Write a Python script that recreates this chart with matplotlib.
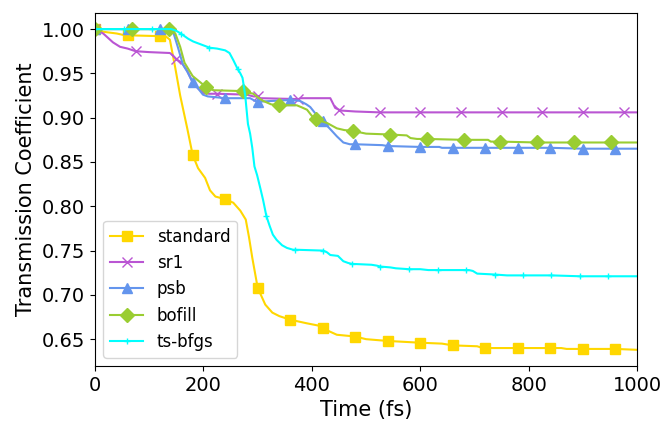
import matplotlib
matplotlib.use('Agg')
import matplotlib.pyplot as plt
import numpy as np

# time (fs) and transmission coefficient
t_std = [0, 15, 40, 55, 60, 120, 130, 138, 148, 157, 170, 180, 190, 203, 212, 222, 240,
         255, 268, 278, 284, 290, 300, 314, 327, 340, 360, 390, 415, 420, 428, 446, 480,
         500, 540, 600, 640, 660, 705, 715, 720, 780, 840, 860, 870, 900, 960, 1000]
v_std = [1.000, 0.997, 0.995, 0.993, 0.993, 0.992, 0.992, 0.988, 0.956, 0.925, 0.888, 0.858, 0.843, 0.832, 0.818, 0.811, 0.808,
         0.804, 0.795, 0.785, 0.765, 0.742, 0.708, 0.689, 0.680, 0.676, 0.672, 0.668, 0.665, 0.663, 0.660, 0.655, 0.653,
         0.650, 0.648, 0.646, 0.645, 0.643, 0.642, 0.640, 0.640, 0.640, 0.640, 0.640, 0.639, 0.639, 0.639, 0.638]
m_std = [0, 60, 120, 180, 240, 300, 360, 420, 480, 540, 600, 660, 720, 780, 840, 900, 960]

t_sr1 = [0, 15, 33, 46, 60, 75, 100, 138, 144, 150, 160, 170, 180, 190, 200, 210, 225, 280,
         292, 300, 305, 375, 380, 434, 443, 450, 455, 480, 525, 600, 675, 750, 825, 900, 975, 1000]
v_sr1 = [1.000, 0.995, 0.985, 0.980, 0.978, 0.975, 0.974, 0.973, 0.970, 0.966, 0.962, 0.953, 0.940, 0.933, 0.928, 0.927, 0.927, 0.926,
         0.924, 0.924, 0.922, 0.921, 0.922, 0.922, 0.911, 0.909, 0.908, 0.907, 0.906, 0.906, 0.906, 0.906, 0.906, 0.906, 0.906, 0.906]
m_sr1 = [0, 75, 150, 225, 300, 375, 450, 525, 600, 675, 750, 825, 900, 975]

t_psb = [0, 60, 120, 140, 145, 153, 162, 170, 180, 190, 199, 208, 240, 286, 295, 300, 330,
         360, 378, 390, 397, 410, 420, 434, 446, 458, 470, 480, 530, 540, 600, 635, 640,
         660, 720, 780, 840, 900, 960, 1000]
v_psb = [1.000, 1.000, 1.000, 1.000, 0.995, 0.979, 0.960, 0.952, 0.940, 0.933, 0.926, 0.924, 0.922, 0.922, 0.919, 0.918, 0.919,
         0.920, 0.919, 0.915, 0.912, 0.902, 0.896, 0.887, 0.879, 0.872, 0.870, 0.870, 0.869, 0.868, 0.867, 0.867, 0.866,
         0.866, 0.866, 0.866, 0.866, 0.865, 0.865, 0.865]
m_psb = [0, 60, 120, 180, 240, 300, 360, 420, 480, 540, 600, 660, 720, 780, 840, 900, 960]

t_bof = [0, 68, 136, 140, 148, 157, 165, 172, 180, 190, 204, 218, 272, 292, 300, 310, 325,
         340, 372, 380, 391, 400, 408, 428, 446, 460, 476, 500, 544, 575, 582, 594, 612,
         680, 725, 730, 748, 816, 884, 952, 1000]
v_bof = [1.000, 1.000, 1.000, 1.000, 0.995, 0.980, 0.962, 0.955, 0.947, 0.942, 0.935, 0.931, 0.930, 0.927, 0.923, 0.919, 0.915,
         0.914, 0.914, 0.912, 0.909, 0.902, 0.898, 0.894, 0.888, 0.886, 0.885, 0.882, 0.881, 0.880, 0.877, 0.876, 0.876,
         0.875, 0.875, 0.873, 0.873, 0.872, 0.872, 0.872, 0.872]
m_bof = [0, 68, 136, 204, 272, 340, 408, 476, 544, 612, 680, 748, 816, 884, 952]

t_ts = [0, 53, 105, 140, 150, 158, 172, 181, 194, 207, 211, 225, 240, 248, 255, 263, 268,
        272, 277, 282, 286, 290, 294, 299, 305, 310, 316, 322, 328, 335, 345, 354, 365,
        368, 420, 421, 428, 434, 448, 458, 467, 474, 510, 520, 526, 545, 555, 579, 600,
        615, 632, 684, 690, 697, 705, 737, 760, 789, 842, 895, 947, 1000]
v_ts = [1.000, 1.000, 1.000, 1.000, 0.998, 0.995, 0.989, 0.986, 0.983, 0.980, 0.979, 0.978, 0.976, 0.973, 0.965, 0.955, 0.950,
        0.945, 0.925, 0.893, 0.882, 0.866, 0.845, 0.835, 0.820, 0.807, 0.789, 0.778, 0.768, 0.762, 0.756, 0.753, 0.751,
        0.751, 0.750, 0.750, 0.748, 0.745, 0.744, 0.738, 0.736, 0.735, 0.734, 0.733, 0.732, 0.731, 0.730, 0.729, 0.729,
        0.728, 0.728, 0.728, 0.728, 0.727, 0.724, 0.723, 0.722, 0.722, 0.722, 0.721, 0.721, 0.721]
m_ts = [0, 53, 105, 158, 211, 263, 316, 368, 421, 474, 526, 579, 632, 684, 737, 789, 842, 895, 947]

series = [
    ('standard', t_std, v_std, m_std, 's', '#FFD700'),
    ('sr1', t_sr1, v_sr1, m_sr1, 'x', '#BA55D3'),
    ('psb', t_psb, v_psb, m_psb, '^', '#6495ED'),
    ('bofill', t_bof, v_bof, m_bof, 'D', '#9ACD32'),
    ('ts-bfgs', t_ts, v_ts, m_ts, '+', '#00FFFF'),
]

fig = plt.figure(figsize=(6.65, 4.21), dpi=100)
ax = fig.add_axes([0.143, 0.131, 0.815, 0.838])

for name, t, v, m, mk, c in series:
    every = np.isin(t, m).tolist()
    ms = 5 if mk == '+' else 7
    ax.plot(t, v, color=c, lw=1.5, marker=mk, markersize=ms, markevery=every, label=name)

ax.set_xlim(0, 1000)
ax.set_xlabel('Time (fs)', fontsize=15)
ax.set_ylabel('Transmission Coefficient', fontsize=15)
ax.tick_params(labelsize=14)
ax.legend(loc='lower left', fontsize=12)

fig.savefig('out.png', dpi=100)
